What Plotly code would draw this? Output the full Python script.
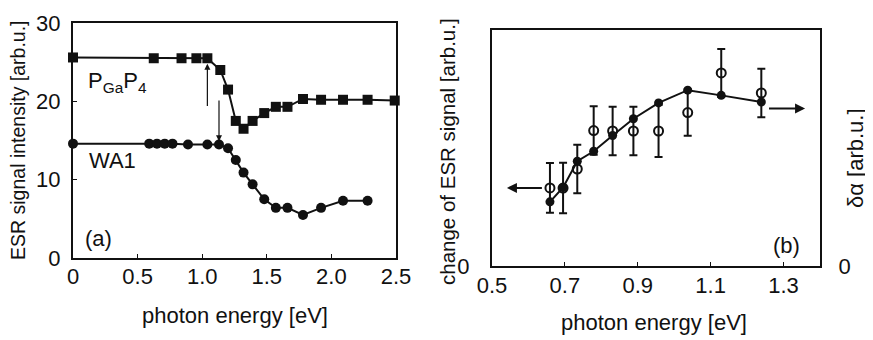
import plotly.graph_objects as go

# ---------- data panel (a) ----------
pgap4_e = [0, 0.625, 0.84, 0.955, 1.04, 1.14, 1.20, 1.26, 1.32, 1.39, 1.48, 1.57, 1.66, 1.78, 1.92, 2.09, 2.28, 2.49]
pgap4_i = [25.6, 25.5, 25.5, 25.5, 25.5, 24.0, 21.5, 17.5, 16.5, 17.5, 18.5, 19.3, 19.3, 20.3, 20.2, 20.2, 20.2, 20.1]
wa1_e = [0, 0.59, 0.65, 0.71, 0.77, 0.89, 1.04, 1.13, 1.20, 1.26, 1.32, 1.39, 1.48, 1.57, 1.66, 1.78, 1.92, 2.09, 2.28]
wa1_i = [14.6, 14.6, 14.6, 14.6, 14.6, 14.5, 14.5, 14.5, 14.0, 12.5, 10.9, 9.4, 7.5, 6.4, 6.4, 5.5, 6.4, 7.3, 7.3]
a_xticks = [0, 0.5, 1.0, 1.5, 2.0, 2.5]
a_xticktext = ["0", "0.5", "1.0", "1.5", "2.0", "2.5"]
a_yticks = [0, 10, 20, 30]

# ---------- data panel (b) ----------
dalpha_e = [0.659, 0.695, 0.734, 0.779, 0.831, 0.888, 0.957, 1.037, 1.129, 1.239]
dalpha_v = [2.72, 3.33, 4.44, 4.86, 5.53, 6.24, 6.91, 7.45, 7.23, 6.95]
esr_e = [0.659, 0.695, 0.734, 0.779, 0.831, 0.888, 0.957, 1.037, 1.129, 1.239]
esr_v = [3.31, 3.30, 4.11, 5.74, 5.72, 5.72, 5.72, 6.50, 8.18, 7.33]
esr_err = [1.05, 1.07, 1.03, 1.03, 1.03, 1.03, 1.10, 0.98, 1.02, 1.03]
b_xticks = [0.5, 0.7, 0.9, 1.1, 1.3]
b_xticktext = ["0.5", "0.7", "0.9", "1.1", "1.3"]

OFF = 8  # default page body margin
W, H = 873 - OFF, 340 - OFF
FONT = "Liberation Sans, Arial, sans-serif"
BLACK = "#111111"

def px(x):
    return (x - OFF) / W

def py(y):
    return 1 - (y - OFF) / H

fig = go.Figure()

# panel (a)
fig.add_trace(go.Scatter(x=pgap4_e, y=pgap4_i, mode="lines+markers",
                         line=dict(color=BLACK, width=2),
                         marker=dict(symbol="square", size=10, color=BLACK),
                         xaxis="x", yaxis="y", showlegend=False, cliponaxis=False))
fig.add_trace(go.Scatter(x=wa1_e, y=wa1_i, mode="lines+markers",
                         line=dict(color=BLACK, width=2),
                         marker=dict(symbol="circle", size=10, color=BLACK),
                         xaxis="x", yaxis="y", showlegend=False, cliponaxis=False))

# panel (b)
fig.add_trace(go.Scatter(x=esr_e, y=esr_v, mode="markers",
                         marker=dict(symbol="circle-open", size=9, color=BLACK, line=dict(width=2)),
                         error_y=dict(type="data", array=esr_err, color=BLACK, thickness=2, width=4),
                         xaxis="x2", yaxis="y2", showlegend=False))
fig.add_trace(go.Scatter(x=dalpha_e, y=dalpha_v, mode="lines+markers",
                         line=dict(color=BLACK, width=2),
                         marker=dict(symbol="circle", size=9, color=BLACK),
                         xaxis="x2", yaxis="y3", showlegend=False))

def ax(**kw):
    d = dict(showline=True, linecolor=BLACK, linewidth=2, mirror=True, automargin=False,
             showgrid=False, zeroline=False, ticks="inside", ticklen=4,
             tickcolor=BLACK, tickfont=dict(family=FONT, size=22, color=BLACK))
    d.update(kw)
    return d

fig.update_layout(
    width=W, height=H, margin=dict(l=0, r=0, t=0, b=0, autoexpand=False),
    paper_bgcolor="white", plot_bgcolor="white",
    font=dict(family=FONT, color=BLACK, size=22),
    xaxis=ax(domain=[px(73), px(396)], range=[0, 2.5], tickvals=a_xticks,
             ticktext=a_xticktext, anchor="y", ticklabelstandoff=-2),
    yaxis=ax(domain=[py(258), py(23)], range=[0, 30], tickvals=a_yticks,
             anchor="x", ticklabelstandoff=6),
    xaxis2=ax(domain=[px(492), px(820)], range=[0.5, 1.4], tickvals=b_xticks,
              ticktext=b_xticktext, anchor="y2", ticklabelstandoff=-1),
    yaxis2=ax(domain=[py(266), py(30)], range=[0, 10], tickvals=[0], mirror=False,
              ticks="", anchor="x2", ticklabelstandoff=16),
    yaxis3=ax(domain=[py(266), py(30)], range=[0, 10], tickvals=[0], mirror=False,
              ticks="", anchor="x2", overlaying="y2", side="right", ticklabelstandoff=12),
)

ann = []
tf = dict(family=FONT, size=22, color=BLACK)
C = dict(xanchor="center", yanchor="middle", showarrow=False, xref="paper", yref="paper")
# axis titles
ann.append(dict(x=px(18), y=py(140), text="ESR signal intensity [arb.u.]",
                textangle=-90, font=dict(family=FONT, size=19.5, color=BLACK), **C))
ann.append(dict(x=px(235), y=py(315), text="photon energy [eV]", font=tf, **C))
ann.append(dict(x=px(447), y=py(152), text="change of ESR signal [arb.u.]",
                textangle=-90, font=dict(family=FONT, size=20.5, color=BLACK), **C))
ann.append(dict(x=px(855), y=py(158), text="δα [arb.u.]", textangle=-90, font=tf, **C))
ann.append(dict(x=px(654), y=py(322), text="photon energy [eV]", font=tf, **C))
# labels inside panels
ann.append(dict(x=0.1, y=22.5, xref="x", yref="y", text="P<sub>Ga</sub>P<sub>4</sub>",
                xanchor="left", yanchor="middle", showarrow=False, font=tf))
ann.append(dict(x=0.11, y=12.4, xref="x", yref="y", text="WA1",
                xanchor="left", yanchor="middle", showarrow=False, font=tf))
ann.append(dict(x=0.075, y=2.55, xref="x", yref="y", text="(a)",
                xanchor="left", yanchor="middle", showarrow=False, font=tf))
ann.append(dict(x=1.309, y=0.85, xref="x2", yref="y2", text="(b)",
                xanchor="center", yanchor="middle", showarrow=False, font=tf))
# arrows panel (a)
ann.append(dict(x=1.04, y=24.8, ax=1.04, ay=19.2, xref="x", yref="y", axref="x", ayref="y",
                text="", showarrow=True, arrowhead=2, arrowsize=1, arrowwidth=1.2, arrowcolor=BLACK))
ann.append(dict(x=1.13, y=14.9, ax=1.13, ay=20.3, xref="x", yref="y", axref="x", ayref="y",
                text="", showarrow=True, arrowhead=2, arrowsize=1, arrowwidth=1.2, arrowcolor=BLACK))
# arrows panel (b)
ann.append(dict(x=0.541, y=3.31, ax=0.641, ay=3.31, xref="x2", yref="y2", axref="x2", ayref="y2",
                text="", showarrow=True, arrowhead=2, arrowsize=1, arrowwidth=2, arrowcolor=BLACK))
ann.append(dict(x=1.359, y=6.67, ax=1.256, ay=6.67, xref="x2", yref="y2", axref="x2", ayref="y2",
                text="", showarrow=True, arrowhead=2, arrowsize=1, arrowwidth=2, arrowcolor=BLACK))
fig.update_layout(annotations=ann)

fig.write_html("out.html")
